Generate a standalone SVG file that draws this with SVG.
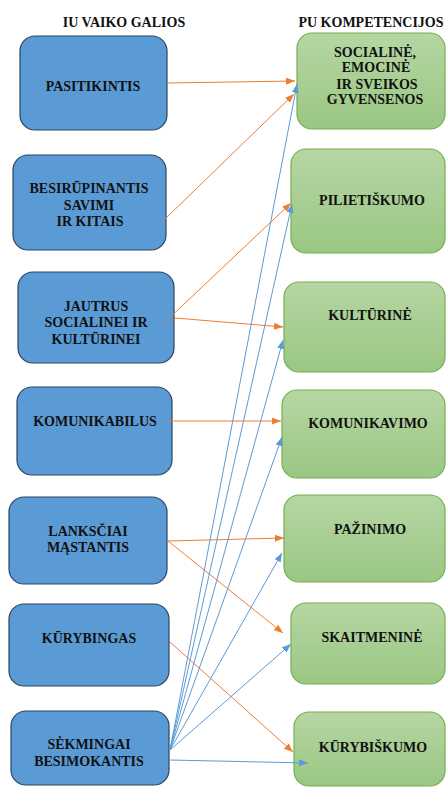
<svg xmlns="http://www.w3.org/2000/svg" width="446" height="787" viewBox="0 0 446 787">
<defs>
<linearGradient id="gg" x1="0" y1="0" x2="0" y2="1">
<stop offset="0" stop-color="#B6D6A3"/>
<stop offset="1" stop-color="#9AC783"/>
</linearGradient>
<marker id="ao" markerUnits="userSpaceOnUse" markerWidth="9" markerHeight="7" refX="9" refY="3.5" orient="auto"><path d="M0,0 L9,3.5 L0,7 z" fill="#ED7D31"/></marker>
<marker id="ab" markerUnits="userSpaceOnUse" markerWidth="9" markerHeight="7" refX="9" refY="3.5" orient="auto"><path d="M0,0 L9,3.5 L0,7 z" fill="#5B9BD5"/></marker>
<style>
.b{fill:#5B9BD5;stroke:#2B4461;stroke-width:1.2}
.g{fill:url(#gg);stroke:#74B04F;stroke-width:1.2}
.t{font-family:"Liberation Serif","Times New Roman",serif;font-weight:bold;font-size:14px;fill:#111;text-anchor:middle}
.o{stroke:#ED7D31;stroke-width:1;fill:none;marker-end:url(#ao)}
.l{stroke:#5B9BD5;stroke-width:1;fill:none;marker-end:url(#ab)}
</style>
</defs>
<rect width="446" height="787" fill="#fff"/>
<g id="headers">
<text class="t" x="124" y="27">IU VAIKO GALIOS</text>
<text class="t" x="371" y="27">PU KOMPETENCIJOS</text>
</g>
<g id="n-pasitikintis"><rect class="b" x="20" y="36" width="147" height="94" rx="15"/><text class="t" x="93" y="91">PASITIKINTIS</text></g>
<g id="n-besirupinantis"><rect class="b" x="13" y="155" width="153" height="95" rx="15"/><text class="t" x="89" y="193">BESIRŪPINANTIS</text><text class="t" x="89" y="210">SAVIMI</text><text class="t" x="90" y="226">IR KITAIS</text></g>
<g id="n-jautrus"><rect class="b" x="18" y="272" width="156" height="91" rx="15"/><text class="t" x="96" y="311">JAUTRUS</text><text class="t" x="96" y="327">SOCIALINEI IR</text><text class="t" x="96" y="344">KULTŪRINEI</text></g>
<g id="n-komunikabilus"><rect class="b" x="17" y="387" width="155" height="88" rx="15"/><text class="t" x="95" y="426">KOMUNIKABILUS</text></g>
<g id="n-lanksciai"><rect class="b" x="9" y="497" width="158" height="87" rx="15"/><text class="t" x="88" y="536">LANKSČIAI</text><text class="t" x="88" y="552">MĄSTANTIS</text></g>
<g id="n-kurybingas"><rect class="b" x="9" y="604" width="160" height="82" rx="15"/><text class="t" x="89" y="643">KŪRYBINGAS</text></g>
<g id="n-sekmingai"><rect class="b" x="11" y="711" width="158" height="74" rx="15"/><text class="t" x="89" y="749">SĖKMINGAI</text><text class="t" x="89" y="766">BESIMOKANTIS</text></g>
<g id="n-socialine"><rect class="g" x="297" y="33" width="148" height="96" rx="15"/><text class="t" x="375" y="57">SOCIALINĖ,</text><text class="t" x="376" y="72">EMOCINĖ</text><text class="t" x="377" y="89">IR SVEIKOS</text><text class="t" x="375" y="104">GYVENSENOS</text></g>
<g id="n-pilietiskumo"><rect class="g" x="291" y="149" width="154" height="104" rx="15"/><text class="t" x="372" y="205">PILIETIŠKUMO</text></g>
<g id="n-kulturine"><rect class="g" x="284" y="282" width="161" height="90" rx="15"/><text class="t" x="370" y="320">KULTŪRINĖ</text></g>
<g id="n-komunikavimo"><rect class="g" x="282" y="390" width="163" height="88" rx="15"/><text class="t" x="368" y="428">KOMUNIKAVIMO</text></g>
<g id="n-pazinimo"><rect class="g" x="284" y="495" width="161" height="87" rx="15"/><text class="t" x="370" y="534">PAŽINIMO</text></g>
<g id="n-skaitmenine"><rect class="g" x="291" y="603" width="154" height="81" rx="15"/><text class="t" x="372" y="642">SKAITMENINĖ</text></g>
<g id="n-kurybiskumo"><rect class="g" x="294" y="712" width="151" height="74" rx="15"/><text class="t" x="373" y="752">KŪRYBIŠKUMO</text></g>
<g id="connectors">
<path class="o" d="M168,83 L295,81"/>
<path class="o" d="M164,220 L294,94"/>
<path class="o" d="M164,323 L291,203"/>
<path class="o" d="M175,318 L283,327"/>
<path class="o" d="M168,421 L281,421"/>
<path class="o" d="M168,541 L284,538"/>
<path class="o" d="M168,541 L283,633"/>
<path class="o" d="M170,642 L293,752"/>
<path class="l" d="M170,750 L297,84"/>
<path class="l" d="M170,750 L292,204"/>
<path class="l" d="M170,750 L283,340"/>
<path class="l" d="M170,750 L282,437"/>
<path class="l" d="M170,750 L282,553"/>
<path class="l" d="M170,750 L291,644"/>
<path class="l" d="M170,760 L308,763"/>
</g>
</svg>
